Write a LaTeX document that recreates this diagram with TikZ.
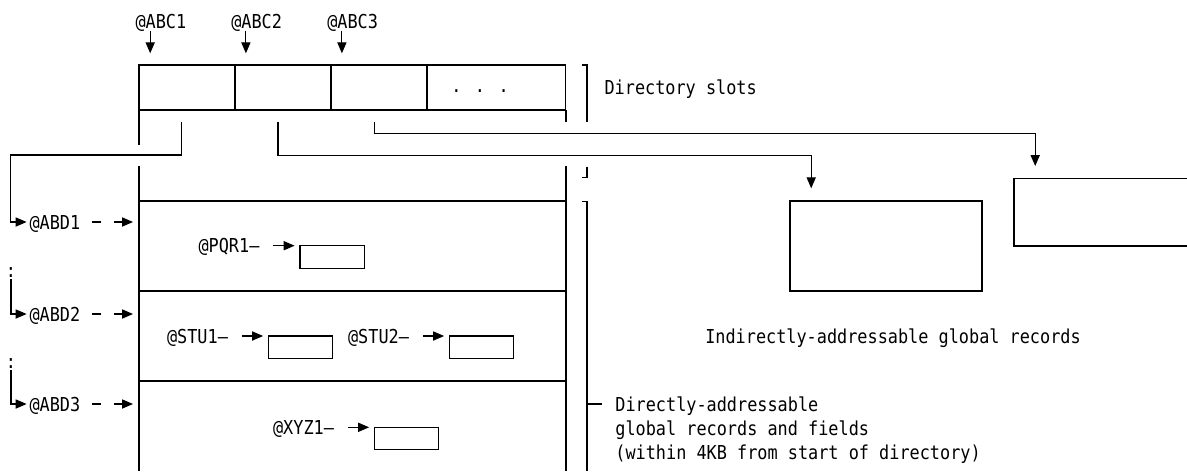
\documentclass[tikz,border=0pt]{standalone}
\usepackage{fontspec}
\newfontfamily\dirmono[FakeStretch=0.878]{DejaVu Sans Mono}
\usetikzlibrary{arrows.meta,positioning}
\tikzset{
  lbl/.style={inner sep=0pt, text height=7pt, text depth=0pt},
  slotbox/.style={draw, inner sep=0pt, outer sep=0pt, minimum width=48pt, minimum height=22.5pt},
  fieldbox/.style={draw, inner sep=0pt, outer sep=0pt, minimum width=32.15pt, minimum height=11.2pt},
  recbox/.style={draw, inner sep=0pt, outer sep=0pt},
  arr/.style={-{Triangle[length=5.5pt,width=4.6pt]}},
  darr/.style={arr, dash pattern=on 4.65pt off 6.5pt, shorten <=5.5pt, shorten >=3pt},
  farr/.style={arr, shorten <=6.7pt, shorten >=2.7pt},
}
\begin{document}
\begin{tikzpicture}[x=0.5pt, y=-0.5pt, line width=0.55pt, font=\dirmono\fontsize{9.6}{11.5}\selectfont]
\useasboundingbox (0,0) rectangle (1187,471);
% directory slots
\node[slotbox, anchor=north west] (s1) at (139,65) {};
\node[slotbox, right=0pt of s1] (s2) {};
\node[slotbox, right=0pt of s2] (s3) {};
\node[slotbox, right=0pt of s3, minimum width=69.25pt] (s4) {};
\node[lbl] (dots) at (480,85.5) {. . .};
\node[lbl, anchor=west] (abc1) at (135,21.7) {@ABC1};
\node[lbl, anchor=west] (abc2) at (230.7,21.7) {@ABC2};
\node[lbl, anchor=west] (abc3) at (326.7,21.7) {@ABC3};
\coordinate (t1) at (150.2,65);\coordinate (t2) at (245.9,65);\coordinate (t3) at (341.9,65);
\draw[arr, shorten <=1pt, shorten >=5.85pt] (abc1.south -| t1) -- (t1);
\draw[arr, shorten <=1pt, shorten >=5.85pt] (abc2.south -| t2) -- (t2);
\draw[arr, shorten <=1pt, shorten >=5.85pt] (abc3.south -| t3) -- (t3);
% directory frame
\draw (139,110) -- (139,145);\draw (139,165.7) -- (139,471);\draw (566,110) -- (566,121.7);\draw (566,165.7) -- (566,471);
\draw (139,201) -- (566,201);\draw (139,291) -- (566,291);\draw (139,381) -- (566,381);
% brackets
\draw (582,65) -- (587,65) -- (587,121.7);
\draw (587,166.7) -- (587,177.7) -- (582,177.7);
\draw (582,201.7) -- (587,201.7) -- (587,471);
\node[lbl, anchor=west] (slots) at (604,87.3) {Directory slots};
\node[lbl, anchor=west] (dir1) at (614.8,404) {Directly-addressable};
\node[lbl, below right=4.5pt and 0pt of dir1.south west] (dir2) {global records and fields};
\node[lbl, below right=4.5pt and 0pt of dir2.south west] (dir3) {(within 4KB from start of directory)};
\coordinate (brk) at (587,404);
\draw[shorten >=6.4pt] (brk) -- (brk -| dir1.west);
% indirectly-addressable records
\node[recbox, minimum width=96pt, minimum height=45pt] (reca) at (886,246) {};
\node[recbox, minimum width=93pt, minimum height=33.85pt, anchor=north west] (recb) at (1014,178.3) {};
\node[lbl, anchor=west] (indir) at (704.7,336.7) {Indirectly-addressable global records};
\coordinate (q1) at (181.8,121.7);\coordinate (q2) at (278,121.7);\coordinate (q3) at (374.3,121.7);
\coordinate (ina) at (811.2,201);\coordinate (inb) at (1035.2,178.3);
\draw[arr, shorten >=6.35pt] (q2) -- ++(0,33.6) -| (ina);
\draw[arr, shorten >=6.15pt] (q3) -- ++(0,11.6) -| (inb);
% directly-addressable records
\node[lbl, anchor=west] (abd1) at (29,222) {@ABD1};
\node[lbl, anchor=west] (abd2) at (29,314) {@ABD2};
\node[lbl, anchor=west] (abd3) at (29,404) {@ABD3};
\node[lbl] (c1) at (11,270) {:};
\node[lbl] (c2) at (11,361.7) {:};
\coordinate (dirl) at (139,300);
\draw[arr, shorten >=1.2pt] (q1) |- (10.7,155) |- (abd1.west);
\draw[arr, shorten <=0.5pt, shorten >=1.2pt] (c1.south) |- (abd2.west);
\draw[arr, shorten <=0.5pt, shorten >=1.2pt] (c2.south) |- (abd3.west);
\draw[darr] (abd1.east) -- (abd1.east -| dirl);
\draw[darr] (abd2.east) -- (abd2.east -| dirl);
\draw[darr] (abd3.east) -- (abd3.east -| dirl);
% fields
\node[lbl, anchor=west] (pqr1) at (198,245.7) {@PQR1–};
\node[fieldbox, right=20pt of pqr1.east, anchor=north west] (pqrbox) {};
\node[lbl, anchor=west] (stu1) at (166.5,336) {@STU1–};
\node[fieldbox, right=20pt of stu1.east, anchor=north west] (stubox1) {};
\node[lbl, anchor=west] (stu2) at (347.5,336) {@STU2–};
\node[fieldbox, right=20pt of stu2.east, anchor=north west] (stubox2) {};
\node[lbl, anchor=west] (xyz1) at (272.5,427.3) {@XYZ1–};
\node[fieldbox, right=20pt of xyz1.east, anchor=north west] (xyzbox) {};
\draw[farr] (pqr1.east) -- (pqrbox.north west);
\draw[farr] (stu1.east) -- (stubox1.north west);
\draw[farr] (stu2.east) -- (stubox2.north west);
\draw[farr] (xyz1.east) -- (xyzbox.north west);
\end{tikzpicture}
\end{document}
